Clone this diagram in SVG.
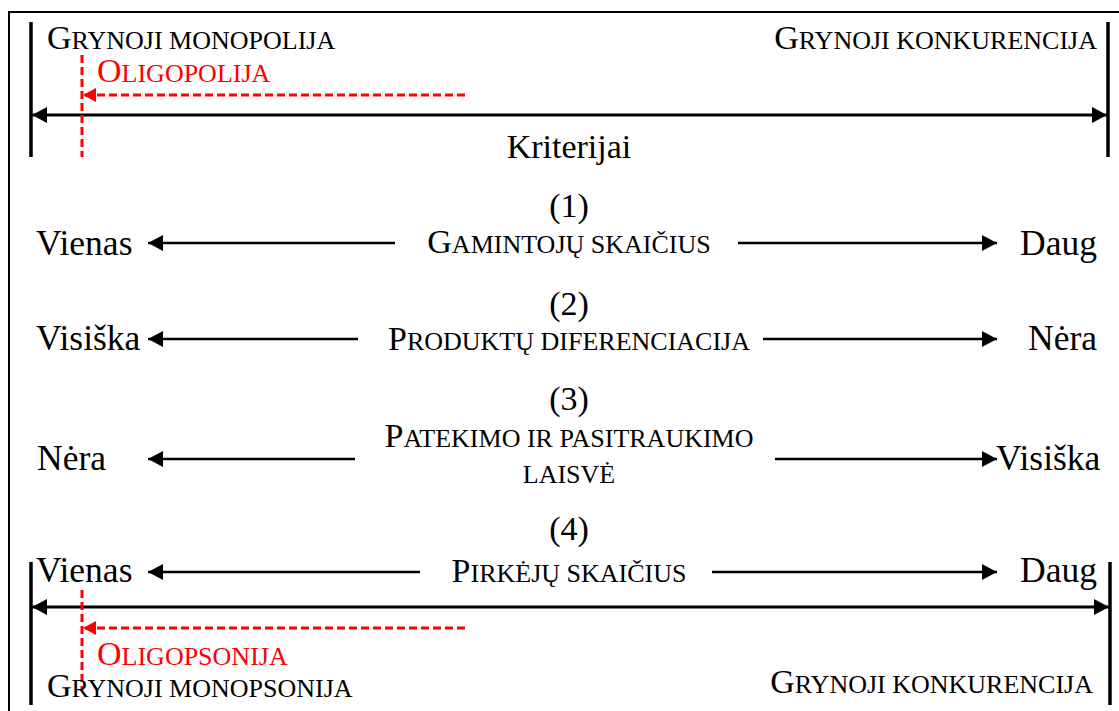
<svg xmlns="http://www.w3.org/2000/svg" width="1119" height="711" viewBox="0 0 1119 711">
<style>
.t{font-family:"Liberation Serif","Times New Roman",serif;font-size:34px;fill:#000}
.b{font-size:35.5px}
.s{font-size:26px}
.red{fill:#ff0000}
.bar{stroke:#000;stroke-width:3.5;fill:none}
.ax{stroke:#000;stroke-width:3;fill:none}
.ar{stroke:#000;stroke-width:2.5;fill:none}
.dash{stroke:#ff0000;stroke-width:3;stroke-dasharray:8,4;fill:none}
</style>
<defs>
<marker id="ah" markerUnits="userSpaceOnUse" markerWidth="16" markerHeight="16" refX="15" refY="8" orient="auto"><path d="M0,0 L15,8 L0,16 z" fill="#000"/></marker>
<marker id="ahr" markerUnits="userSpaceOnUse" markerWidth="14" markerHeight="16" refX="13" refY="8" orient="auto"><path d="M0,1 L13,8 L0,15 z" fill="#ff0000"/></marker>
</defs>
<rect x="9" y="12" width="1120" height="710" fill="#fff" stroke="#000" stroke-width="2"/>
<g id="connectors">
<line class="bar" x1="31" y1="22" x2="31" y2="157"/>
<line class="bar" x1="1108" y1="22" x2="1108" y2="157"/>
<line class="ax" x1="570" y1="115" x2="32" y2="115" marker-end="url(#ah)"/>
<line class="ax" x1="570" y1="115" x2="1107" y2="115" marker-end="url(#ah)"/>
<line class="dash" x1="82" y1="55" x2="82" y2="157"/>
<line class="dash" x1="465" y1="95" x2="83" y2="95" marker-end="url(#ahr)"/>
<line class="ar" x1="395" y1="243" x2="148" y2="243" marker-end="url(#ah)"/>
<line class="ar" x1="738" y1="243" x2="997" y2="243" marker-end="url(#ah)"/>
<line class="ar" x1="358" y1="339" x2="148" y2="339" marker-end="url(#ah)"/>
<line class="ar" x1="763" y1="339" x2="997" y2="339" marker-end="url(#ah)"/>
<line class="ar" x1="355" y1="459" x2="148" y2="459" marker-end="url(#ah)"/>
<line class="ar" x1="775" y1="459" x2="997" y2="459" marker-end="url(#ah)"/>
<line class="ar" x1="420" y1="572" x2="148" y2="572" marker-end="url(#ah)"/>
<line class="ar" x1="712" y1="572" x2="997" y2="572" marker-end="url(#ah)"/>
<line class="bar" x1="31" y1="562" x2="31" y2="705"/>
<line class="bar" x1="1110" y1="562" x2="1110" y2="705"/>
<line class="ax" x1="570" y1="607" x2="32" y2="607" marker-end="url(#ah)"/>
<line class="ax" x1="570" y1="607" x2="1109" y2="607" marker-end="url(#ah)"/>
<line class="dash" x1="82" y1="590" x2="82" y2="690"/>
<line class="dash" x1="465" y1="628" x2="83" y2="628" marker-end="url(#ahr)"/>
</g>
<g id="top-left"><text class="t" x="47" y="49">G<tspan class="s">RYNOJI MONOPOLIJA</tspan></text></g>
<g id="top-right"><text class="t" x="1097" y="49" text-anchor="end">G<tspan class="s">RYNOJI KONKURENCIJA</tspan></text></g>
<g id="oligopolija"><text class="t red" x="97" y="82">O<tspan class="s">LIGOPOLIJA</tspan></text></g>
<g id="kriterijai"><text class="t" x="569" y="158" text-anchor="middle">Kriterijai</text></g>
<g id="c1">
<text class="t" x="569" y="217" text-anchor="middle">(1)</text>
<text class="t b" x="36" y="255">Vienas</text>
<text class="t" x="569" y="253" text-anchor="middle">G<tspan class="s">AMINTOJŲ SKAIČIUS</tspan></text>
<text class="t b" x="1097" y="255" text-anchor="end">Daug</text>
</g>
<g id="c2">
<text class="t" x="569" y="315" text-anchor="middle">(2)</text>
<text class="t b" x="36" y="350">Visiška</text>
<text class="t" x="569" y="350" text-anchor="middle">P<tspan class="s">RODUKTŲ DIFERENCIACIJA</tspan></text>
<text class="t b" x="1097" y="350" text-anchor="end">Nėra</text>
</g>
<g id="c3">
<text class="t" x="569" y="410" text-anchor="middle">(3)</text>
<text class="t b" x="37" y="470">Nėra</text>
<text class="t" x="569" y="447" text-anchor="middle">P<tspan class="s">ATEKIMO IR PASITRAUKIMO</tspan></text>
<text class="t s" x="569" y="483" text-anchor="middle">LAISVĖ</text>
<text class="t b" x="996" y="470">Visiška</text>
</g>
<g id="c4">
<text class="t" x="569" y="540" text-anchor="middle">(4)</text>
<text class="t b" x="36" y="582">Vienas</text>
<text class="t" x="569" y="582" text-anchor="middle">P<tspan class="s">IRKĖJŲ SKAIČIUS</tspan></text>
<text class="t b" x="1097" y="582" text-anchor="end">Daug</text>
</g>
<g id="oligopsonija"><text class="t red" x="97" y="665">O<tspan class="s">LIGOPSONIJA</tspan></text></g>
<g id="bottom-left"><text class="t" x="47" y="697">G<tspan class="s">RYNOJI MONOPSONIJA</tspan></text></g>
<g id="bottom-right"><text class="t" x="1093" y="693" text-anchor="end">G<tspan class="s">RYNOJI KONKURENCIJA</tspan></text></g>
</svg>
